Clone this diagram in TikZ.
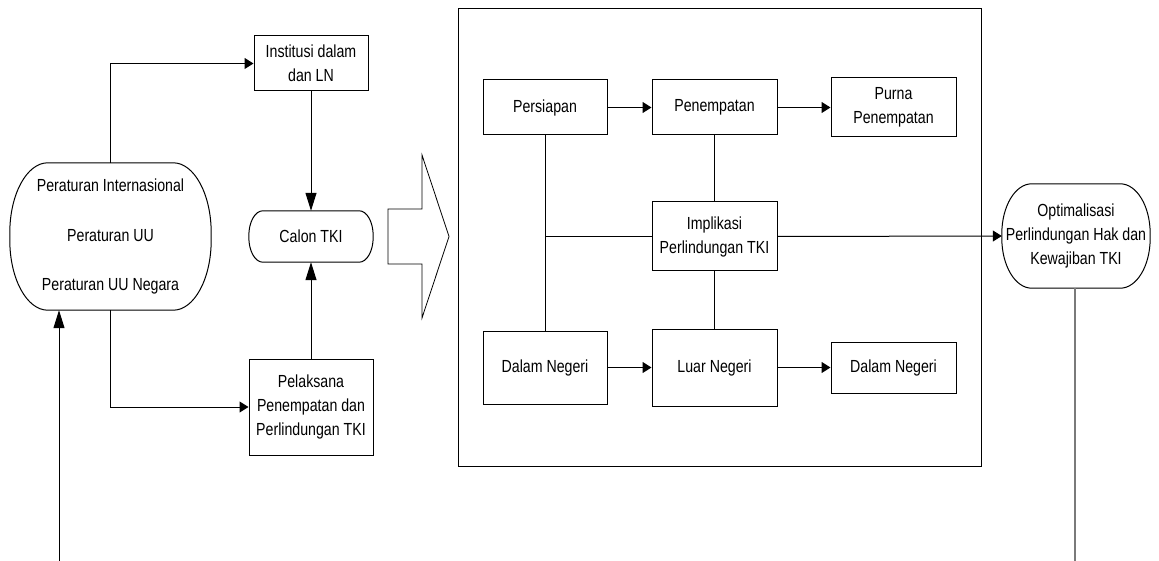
\documentclass[tikz,border=0pt]{standalone}
\usepackage{fontspec}
\setmainfont{Liberation Sans}[FakeStretch=0.81]
\usetikzlibrary{arrows.meta}
\newcommand\ovalframe[3]{%
  \draw[edge] ([xshift=#2]#1.north west) -- ([xshift=-#2]#1.north east)
    arc[start angle=90,end angle=0,x radius=#2,y radius=#3]
    -- ([yshift=#3]#1.south east)
    arc[start angle=0,end angle=-90,x radius=#2,y radius=#3]
    -- ([xshift=#2]#1.south west)
    arc[start angle=270,end angle=180,x radius=#2,y radius=#3]
    -- ([yshift=-#3]#1.north west)
    arc[start angle=180,end angle=90,x radius=#2,y radius=#3] -- cycle;}
\tikzset{
  edge/.style={line width=1pt, draw=black},
  txt/.style={inner sep=0pt, align=center, font=\fontsize{17.5}{24}\selectfont},
  box/.style={txt, draw=black, line width=1pt},
  harr/.style={edge, -{Triangle[length=9pt,width=11pt]}},
  varr/.style={edge, -{Triangle[length=18pt,width=11pt]}},
  greyline/.style={line width=1.5pt, draw=black!52},
}
\begin{document}
\begin{tikzpicture}[x=1pt,y=-1pt]
\useasboundingbox (0,0) rectangle (1159,561);
% left column
\node[txt, minimum width=201pt, minimum height=147pt, font=\fontsize{17.5}{49.5}\selectfont] (L) at (110.5,236.5)
  {Peraturan Internasional\\Peraturan UU\\Peraturan UU Negara};
\ovalframe{L}{38pt}{70pt}
\node[box, minimum width=114pt, minimum height=55pt] (I) at (311,63.5) {Institusi dalam\\dan LN};
\node[txt, minimum width=124pt, minimum height=51pt] (C) at (311,236.5) {Calon TKI};
\ovalframe{C}{14pt}{25pt}
\node[box, minimum width=124pt, minimum height=96pt] (P) at (311,407) {Pelaksana\\Penempatan dan\\Perlindungan TKI};
% big arrow
\draw[edge, line width=0.8pt] (388,209) -- (422,209) -- (422,155) -- (449,236.5) -- (422,318) -- (422,264) -- (388,264) -- cycle;
% frame
\node[draw=black, line width=1pt, minimum width=523pt, minimum height=457pt, inner sep=0pt] (F) at (719.5,237.5) {};
% inner boxes
\node[box, minimum width=124pt, minimum height=55pt] (S) at (545,107.5) {Persiapan};
\node[box, minimum width=125pt, minimum height=55pt] (T) at (714.5,107.5) {Penempatan};
\node[box, minimum width=125pt, minimum height=59pt] (U) at (893.5,107.5) {Purna\\Penempatan};
\node[box, minimum width=125pt, minimum height=69pt] (M) at (714.5,236.5) {Implikasi\\Perlindungan TKI};
\node[box, minimum width=124pt, minimum height=73pt] (D1) at (545,367.5) {Dalam Negeri};
\node[box, minimum width=125pt, minimum height=77pt] (LN) at (714.5,367.5) {Luar Negeri};
\node[box, minimum width=125pt, minimum height=51pt] (D2) at (893.5,367.5) {Dalam Negeri};
% right node
\node[txt, minimum width=148pt, minimum height=104pt] (O) at (1076,236) {Optimalisasi\\Perlindungan Hak dan\\Kewajiban TKI};
\ovalframe{O}{30pt}{50pt}
% connectors left
\draw[harr] (L.north) |- (I.west);
\draw[harr] (L.south) |- (P.west);
\draw[varr] (I.south) -- (C.north);
\draw[varr] (P.north) -- (C.south);
\coordinate (bl) at (59,561);
\draw[varr] (bl) -- (bl |- L.south);
% connectors inside
\draw[harr] (S.east) -- (T.west);
\draw[harr] (T.east) -- (U.west);
\draw[harr] (D1.east) -- (LN.west);
\draw[harr] (LN.east) -- (D2.west);
\draw[edge] (S.south) -- (D1.north);
\coordinate (j) at (S.south |- M.west);
\draw[edge] (j) -- (M.west);
\draw[edge] (T.south) -- (M.north);
\draw[edge] (M.south) -- (LN.north);
\draw[harr] (M.east) -- (O.west);
% right line
\coordinate (br) at (1075,561);
\draw[greyline] (O.south -| br) -- (br);
\end{tikzpicture}
\end{document}
